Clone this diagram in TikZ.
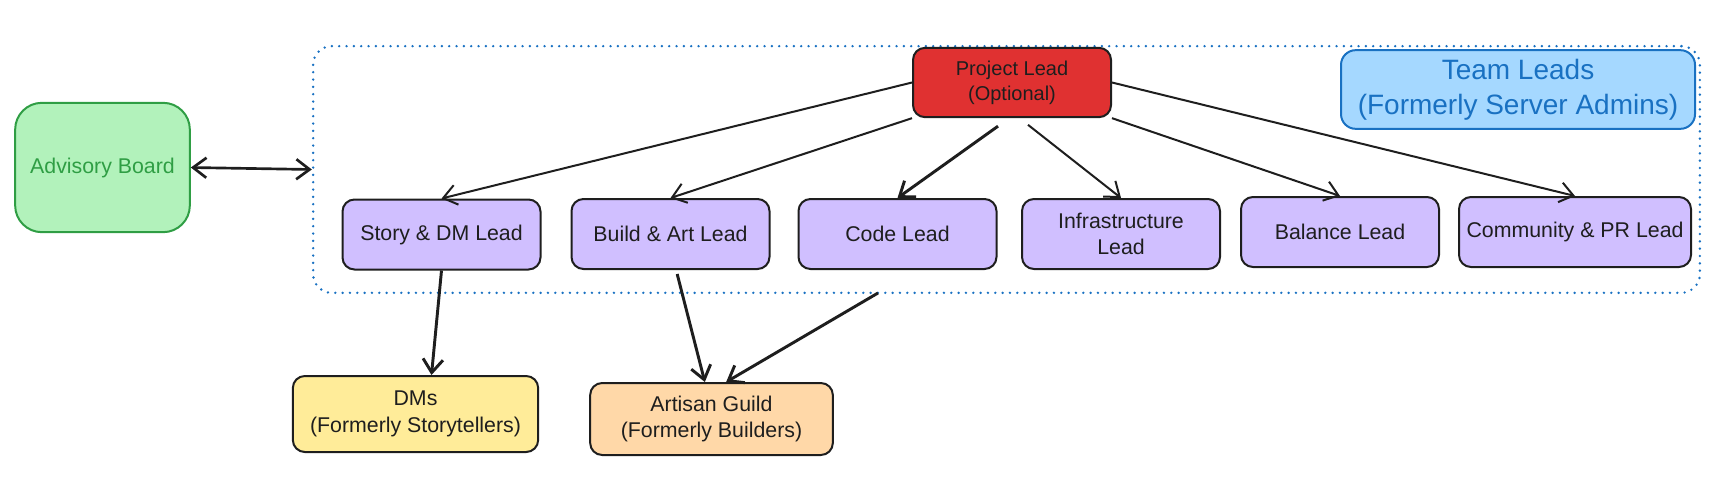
\documentclass[tikz,border=0pt]{standalone}
\usepackage{fontspec}
\setmainfont{Liberation Sans}
\usetikzlibrary{arrows.meta}

\definecolor{ink}{HTML}{1E1E1E}
\definecolor{boardfill}{HTML}{B2F2BB}
\definecolor{boardline}{HTML}{2F9E44}
\definecolor{projfill}{HTML}{E03131}
\definecolor{teamfill}{HTML}{A5D8FF}
\definecolor{teamline}{HTML}{1971C2}
\definecolor{leadfill}{HTML}{D0BFFF}
\definecolor{dmfill}{HTML}{FFEC99}
\definecolor{guildfill}{HTML}{FFD8A8}

\begin{document}
\begin{tikzpicture}[
	x=0.75pt, y=-0.75pt,
	box/.style={ draw=ink, line width=1.5pt, rounded corners=9pt, align=center, inner sep=2pt, text=ink, font=\fontsize{16}{20}\selectfont },
	lead/.style={ box, fill=leadfill, minimum width=148.5pt, minimum height=52.5pt },
	board/.style={ box, draw=boardline, fill=boardfill, text=boardline, rounded corners=20pt, minimum width=131pt, minimum height=97pt },
	group/.style={ draw=teamline, line width=2pt, line cap=round, dash pattern=on 0pt off 5.5pt, rounded corners=14pt, minimum width=1040pt, minimum height=185pt },
	title/.style={ box, draw=teamline, fill=teamfill, text=teamline, rounded corners=11pt, font=\fontsize{21}{26}\selectfont, minimum width=265.5pt, minimum height=59pt },
	barb/.tip={ Straight Barb[length=10pt,width=15pt] },
	link/.style={ draw=ink, line width=1.5pt, -barb },
	boldlink/.style={ link, line width=2.2pt }
]
\useasboundingbox (0,0) rectangle (1733,492);

% team leads group
\node at (1006.5,169.5) (leads) [group] {};
\node at (1518,89.5) (team) [title] {Team Leads\\(Formerly Server Admins)};

% advisory board
\node at (102.5,167.5) (adv) [board] {Advisory Board};
\draw [link, line width=2pt, barb-barb] (adv.east) to (leads.west);

% project lead
\node at (1012,82.5) (proj) [box,fill=projfill,minimum width=148.5pt,minimum height=52pt,font=\fontsize{15}{19}\selectfont] {Project Lead\\(Optional)};

% leads row
\node at (441.5,234.5) (story) [lead] {Story \& DM Lead};
\node at (670.5,234) (build) [lead] {Build \& Art Lead};
\node at (897.5,234) (code) [lead] {Code Lead};
\node at (1121,234) (infra) [lead] {Infrastructure\\Lead};
\node at (1340,232) (balance) [lead] {Balance Lead};
\node at (1575,232) (community) [lead,minimum width=174pt,inner xsep=1pt] {Community \& PR Lead};

\draw [link] (proj.west) to (story.north);
\draw [link] (proj.south west) to (build.north);
\draw [boldlink] ([xshift=-10.5pt,yshift=-6pt]proj.south) to (code.north);
\draw [link] ([xshift=12pt,yshift=-5pt]proj.south) to (infra.north);
\draw [link] (proj.south east) to (balance.north);
\draw [link] (proj.east) to (community.north);

% member groups
\node at (415.5,414) (dms) [box,fill=dmfill,minimum width=184pt,minimum height=57pt] {DMs\\(Formerly Storytellers)};
\node at (711.5,419) (guild) [box,fill=guildfill,minimum width=182pt,minimum height=54pt] {Artisan Guild\\(Formerly Builders)};
\coordinate (gbot) at (878,293);

\draw [boldlink] (story.south) to ([xshift=12pt]dms.north);
\draw [boldlink] ([xshift=5pt,yshift=-3pt]build.south) to ([xshift=-5pt]guild.north);
\draw [boldlink] (gbot) to ([xshift=11pt]guild.north);

\end{tikzpicture}
\end{document}
